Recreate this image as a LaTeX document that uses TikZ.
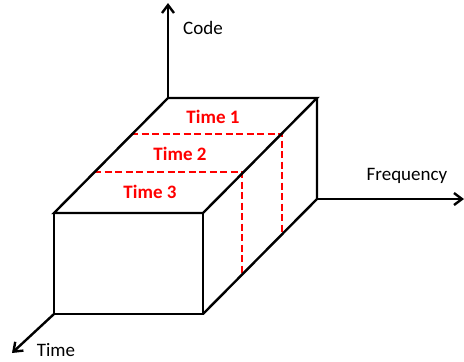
\documentclass[tikz,border=0pt]{standalone}
\usepackage{fontspec}
\setmainfont{Carlito}
\usetikzlibrary{arrows.meta}
\begin{document}
\begin{tikzpicture}[x=1pt,y=-1pt,
  edge/.style={line width=2.4pt,line join=miter},
  axis/.style={line width=2.4pt,-{Straight Barb[length=8pt,width=12pt,line width=2.4pt]}},
  part/.style={red,line width=2.4pt,dash pattern=on 7pt off 3.5pt},
  partlabel/.style={text=red,font=\fontsize{19}{22}\selectfont\bfseries,inner sep=0pt},
  axislabel/.style={font=\fontsize{19}{22}\selectfont,inner sep=0pt}]
\useasboundingbox (0,0) rectangle (464,362);
% corners
\coordinate (tbl) at (168,98);
\coordinate (tbr) at (317,98);
\coordinate (tfl) at (54,213);
\coordinate (tfr) at (203,213);
\coordinate (bfl) at (54,314);
\coordinate (bfr) at (203,314);
\coordinate (bbr) at (317,199);
% axis ends
\coordinate (codetip) at (168,3);
\coordinate (freqtip) at (464,199);
\coordinate (timetip) at (12,353);
% dashed partition points
\coordinate (d1l) at (131,134);
\coordinate (d1r) at (282,134);
\coordinate (d1b) at (282,234);
\coordinate (d2l) at (94,172);
\coordinate (d2r) at (242,172);
\coordinate (d2b) at (242,274);
% axes
\draw[axis] (tbl) -- (codetip);
\draw[axis] (bbr) -- (freqtip);
\draw[axis] (bfl) -- (timetip);
% partitions
\draw[part] (d1l) -- (d1r) -- (d1b);
\draw[part] (d2l) -- (d2r) -- (d2b);
% box
\draw[edge] (tfl) -- (tbl) -- (tbr) -- (tfr) -- cycle;
\draw[edge] (tfl) rectangle (bfr);
\draw[edge] (tbr) -- (bbr) -- (bfr);
% labels
\node[partlabel] (t1) at (213,117) {Time 1};
\node[partlabel] (t2) at (180,154) {Time 2};
\node[partlabel] (t3) at (150,192) {Time 3};
\node[axislabel] (code) at (203,28) {Code};
\node[axislabel] (freq) at (407,176) {Frequency};
\node[axislabel] (time) at (56,350) {Time};
\end{tikzpicture}
\end{document}
